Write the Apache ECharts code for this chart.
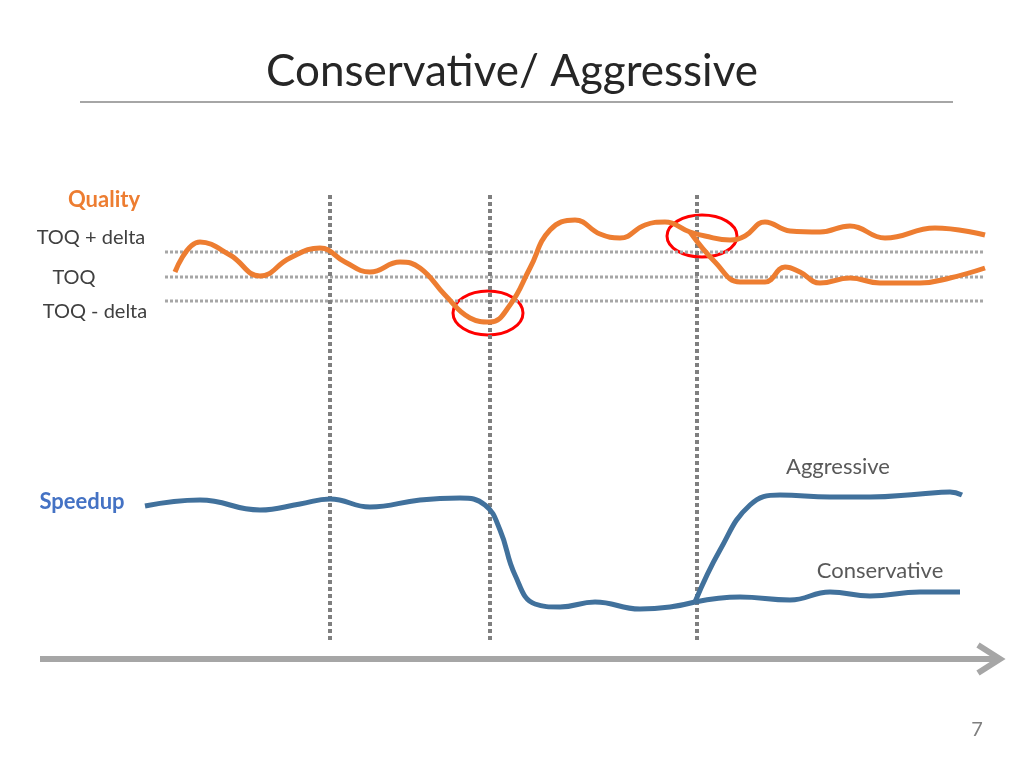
<!DOCTYPE html>
<html><head><meta charset="utf-8">
<script src="https://cdn.jsdelivr.net/npm/echarts@6/dist/echarts.min.js"></script>
<style>html,body{margin:0;padding:0;background:#fff}#c{width:1024px;height:768px}</style>
</head><body><div id="c"></div>
<script>
// Diagram space: x 0..1024, y 0..768 (top down)
const qualityMain = [[175,272],[200,242],[230,255],[260,276],[290,258],[320,248],[345,262],[370,272],[400,262],[420,268],[445,295],[470,318],[490,322],[510,305],[530,268],[550,230],[575,220],[600,234],[620,238],[645,225],[665,222],[690,232],[705,236],[730,240],[745,236],[765,222],[790,231],[820,232],[850,226],[885,238],[935,228],[985,235]];
const qualityConservative = [[690,232],[715,262],[740,282],[765,282],[785,267],[800,272],[820,283],[850,278],[880,283],[920,283],[950,278],[985,268]];
const speedupMain = [[145,506],[200,500],[260,510],[300,504],[330,499],[370,507],[420,500],[460,498],[485,505],[500,530],[515,575],[535,604],[560,607],[595,602],[640,609],[670,607],[695,602]];
const speedupConservative = [[695,602],[740,597],[790,600],[830,592],[870,596],[920,592],[960,592]];
const speedupAggressive = [[695,602],[720,550],[750,505],[780,495],[830,497],[870,497],[920,494],[950,492],[962,495]];
const thresholdY = [252,277,301];
const thresholdNames = ['TOQ + delta','TOQ','TOQ - delta'];
const dividerX = [330,490,697];
const circles = [[488,313,35,22],[702,236,35,21]];

const orange='#ED7D31', blue='#41719C', gray='#7f7f7f';
const series = [];
thresholdY.forEach(y=>series.push({type:'line',data:[[165,y],[985,y]],symbol:'none',lineStyle:{color:'#a6a6a6',width:3,type:[3,2]},silent:true}));
dividerX.forEach(x=>series.push({type:'line',data:[[x,195],[x,643]],symbol:'none',lineStyle:{color:gray,width:4,type:[4,3]},silent:true}));
[qualityMain,qualityConservative].forEach(d=>series.push({type:'line',data:d,smooth:0.45,symbol:'none',lineStyle:{color:orange,width:5}}));
[speedupMain,speedupConservative,speedupAggressive].forEach(d=>series.push({type:'line',data:d,smooth:0.45,symbol:'none',lineStyle:{color:blue,width:5}}));
series.push({type:'custom',data:circles,renderItem:(p,api)=>{
  const c=api.coord([api.value(0),api.value(1)]);
  const s=api.size([api.value(2),api.value(3)]);
  return {type:'ellipse',shape:{cx:c[0],cy:c[1],rx:s[0],ry:s[1]},style:{fill:'none',stroke:'#FF0000',lineWidth:3}};
}});
// axis arrow: shaft + open chevron head
const arrowShaft=[[40,659],[998,659]];
const arrowHead=[[978,645],[1000,659],[978,673]];
series.push({type:'line',data:arrowShaft,symbol:'none',lineStyle:{color:'#a6a6a6',width:6}});
series.push({type:'line',data:arrowHead,symbol:'none',lineStyle:{color:'#a6a6a6',width:6,join:'miter'}});
series.push({type:'line',data:[[80,102],[953,102]],symbol:'none',lineStyle:{color:'#a6a6a6',width:2}});

const F='Lato';
const texts = [
  {t:'Conservative/ Aggressive',x:512,y:72,s:44,c:'#262626'},
  {t:'Quality',x:104,y:200,s:22,c:orange,w:'bold'},
  {t:thresholdNames[0],x:91,y:238,s:20,c:'#404040'},
  {t:thresholdNames[1],x:74,y:278,s:20,c:'#404040'},
  {t:thresholdNames[2],x:95,y:312,s:20,c:'#404040'},
  {t:'Speedup',x:82,y:502,s:22,c:'#4472C4',w:'bold'},
  {t:'Aggressive',x:838,y:467,s:22,c:'#595959'},
  {t:'Conservative',x:880,y:571,s:22,c:'#595959'},
  {t:'7',x:977,y:730,s:20,c:'#7f7f7f'}
];
series.push({type:'custom',data:texts.map(o=>[o.x,o.y]),renderItem:(p,api)=>{
  const o=texts[p.dataIndex]; const c=api.coord([o.x,o.y]);
  return {type:'text',x:c[0],y:c[1],style:{text:o.t,fill:o.c,font:(o.w||'normal')+' '+o.s+'px "'+F+'"',align:'center',verticalAlign:'middle'}};
}});

const chart=echarts.init(document.getElementById('c'));
chart.setOption({animation:false,grid:{left:0,right:0,top:0,bottom:0},
  xAxis:{type:'value',min:0,max:1024,show:false},
  yAxis:{type:'value',min:0,max:768,inverse:true,show:false},
  series});
</script></body></html>
